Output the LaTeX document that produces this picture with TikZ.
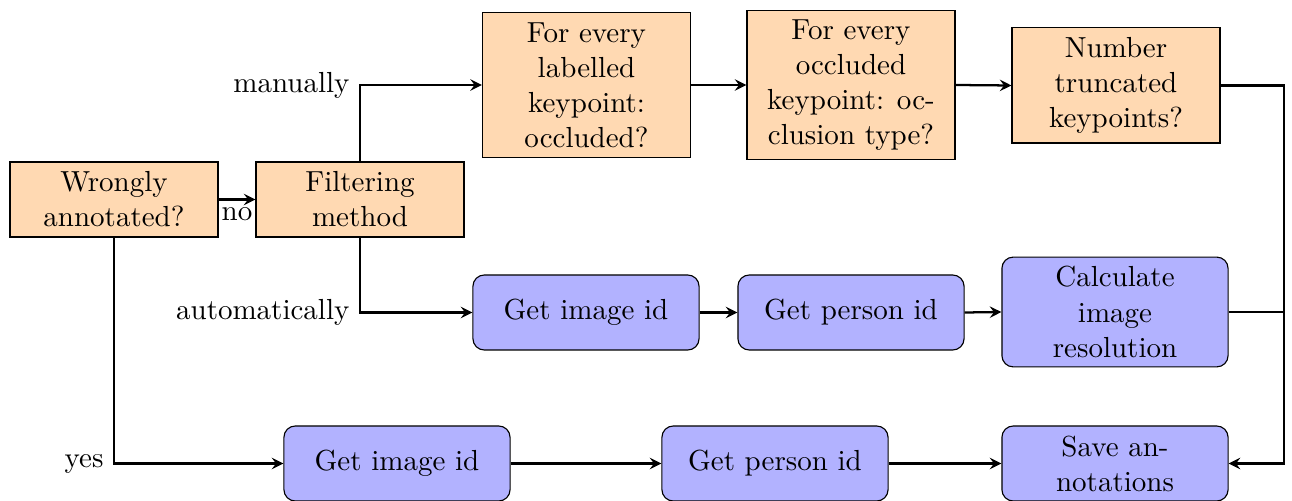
\documentclass[tikz,border=0pt]{standalone}
\usetikzlibrary{arrows}
\begin{document}
\begin{tikzpicture}[x=0.3533pt,y=-0.3533pt,
  every node/.style={font=\fontsize{10.25}{12.4}\selectfont},
  orangebox/.style={draw, fill=orange!30, align=center, minimum width=73.5pt, minimum height=26.5pt},
  bluebox/.style={draw, fill=blue!30, rounded corners=4pt, align=center, minimum width=79.9pt, minimum height=26.5pt},
  conn/.style={thick,-stealth},
  plainconn/.style={thick},
  lbl/.style={inner sep=2.5pt}]
\useasboundingbox (0,0) rectangle (1292,501);
% orange nodes
\node[orangebox] (wrong) at (114,199.5) {Wrongly\\annotated?};
\node[orangebox] (filter) at (360,199.5) {Filtering\\method};
\node[orangebox] (occ) at (586.5,85) {For every\\labelled\\keypoint:\\occluded?};
\node[orangebox] (typ) at (851,85) {For every\\occluded\\keypoint: oc-\\clusion type?};
\node[orangebox] (num) at (1116,85.5) {Number\\truncated\\keypoints?};
% blue nodes, middle row
\node[bluebox] (img1) at (586,312.5) {Get image id};
\node[bluebox] (per1) at (851,312.5) {Get person id};
\node[bluebox] (calc) at (1115,312) {Calculate\\image\\resolution};
% blue nodes, bottom row
\node[bluebox] (img2) at (397,463.5) {Get image id};
\node[bluebox] (per2) at (775,463.5) {Get person id};
\node[bluebox] (save) at (1115,463.5) {Save an-\\notations};
% helper coordinates
\coordinate (rt) at (1284,85.5);
\coordinate (rb) at (1284,463.5);
% connectors
\draw[conn] (wrong.east) -- node[below, lbl] {no} (filter.west);
\draw[conn] (filter.north) |- node[pos=0.5, left] {manually} (occ.west);
\draw[conn] (filter.south) |- node[pos=0.5, left] {automatically} (img1.west);
\draw[conn] (wrong.south) |- node[pos=0.5, left] {yes} (img2.west);
\draw[conn] (occ.east) -- (typ.west);
\draw[conn] (typ.east) -- (num.west);
\draw[conn] (img1.east) -- (per1.west);
\draw[conn] (per1.east) -- (calc.west);
\draw[conn] (img2.east) -- (per2.west);
\draw[conn] (per2.east) -- (save.west);
\draw[conn] (num.east) -- (rt) -- (rb) -- (save.east);
\draw[plainconn] (calc.east) -- (calc.east -| rt);
\end{tikzpicture}
\end{document}
